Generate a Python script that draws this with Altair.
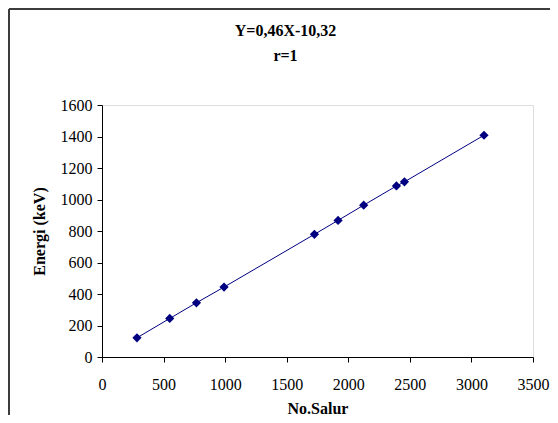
import altair as alt
import pandas as pd

# Data
channels = [284, 550, 767, 991, 1725, 1917, 2125, 2391, 2456, 3102]
energies = [121.78, 244.70, 344.28, 443.96, 778.90, 867.38, 964.08, 1085.84, 1112.08, 1408.01]
x_ticks = [0, 500, 1000, 1500, 2000, 2500, 3000, 3500]
y_ticks = [0, 200, 400, 600, 800, 1000, 1200, 1400, 1600]
title_lines = ["Y=0,46X-10,32", "r=1"]

df = pd.DataFrame({"channel": channels, "energy": energies})

FONT = "Liberation Serif"
NAVY = "#000080"

x_enc = alt.X(
    "channel:Q",
    scale=alt.Scale(domain=[0, 3500], nice=False, zero=False),
    axis=alt.Axis(
        values=x_ticks, format="d", title="No.Salur", titleFont=FONT, titleFontSize=16,
        titleFontWeight="bold", titleColor="black", titleBaseline="alphabetic",
        titleY=56, labelFont=FONT, labelFontSize=16, labelColor="black",
        labelPadding=14, tickSize=5, tickColor="black", domainColor="black",
        grid=False, labelFlush=False,
    ),
)
y_enc = alt.Y(
    "energy:Q",
    scale=alt.Scale(domain=[0, 1600], nice=False, zero=False),
    axis=alt.Axis(
        values=y_ticks, format="d", title="Energi (keV)", titleFont=FONT, titleFontSize=16,
        titleFontWeight="bold", titleColor="black", titleX=-55,
        labelFont=FONT, labelFontSize=16, labelColor="black",
        labelPadding=5, tickSize=5, tickColor="black", domainColor="black",
        grid=False, labelFlush=False,
    ),
)

base = alt.Chart(df).encode(x=x_enc, y=y_enc)
line = base.mark_line(color=NAVY, strokeWidth=1)
points = base.mark_point(shape="diamond", filled=True, color=NAVY, size=85, opacity=1)

border_left = alt.Chart(df).mark_rule(color="#3c3c3c", strokeWidth=2).encode(
    x=alt.value(-93), y=alt.value(-96), y2=alt.value(330)
)
border_top = alt.Chart(df).mark_rule(color="#3c3c3c", strokeWidth=2).encode(
    x=alt.value(-93), x2=alt.value(470), y=alt.value(-96)
)

chart = (
    alt.layer(border_left, border_top, line, points)
    .properties(
        width=431,
        height=252,
        title=alt.TitleParams(
            text=title_lines, font=FONT, fontSize=16, fontWeight="bold",
            color="black", lineHeight=25, anchor="middle", frame="group",
            dx=-32, offset=0, dy=56,
        ),
        autosize=alt.AutoSizeParams(type="none"),
        padding={"left": 94, "top": 97, "right": 17, "bottom": 58},
    )
    .configure_view(stroke=None)
    .configure(background="white")
)

chart.save("out.html", embed_options={"renderer": "svg", "actions": False})
